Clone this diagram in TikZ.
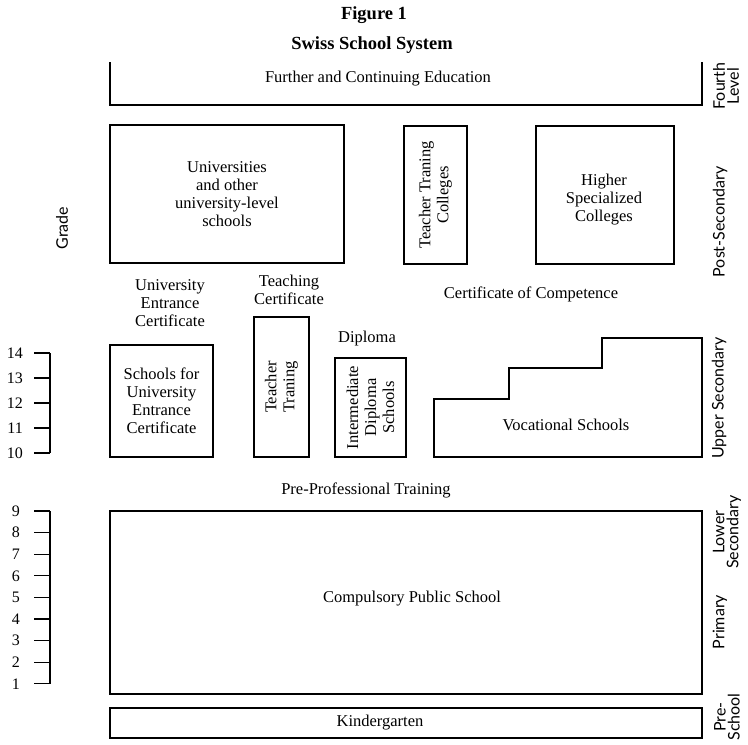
\documentclass[tikz,border=0pt]{standalone}
\usepackage{fontspec}
\setmainfont{Liberation Serif}
\newfontfamily\sidefont{Lato}
\begin{document}
\begin{tikzpicture}[x=1pt,y=-1pt]
\tikzset{
 box/.style={draw, line width=1.1pt, inner sep=0pt, align=center, font=\fontsize{16.5}{18}\selectfont},
 txt/.style={font=\fontsize{16.5}{18}\selectfont, align=center, inner sep=0pt},
 ttl/.style={font=\bfseries\fontsize{18.5}{20}\selectfont, inner sep=0pt},
 side/.style={font=\sidefont\fontsize{16}{14}\selectfont, rotate=90, align=center, inner sep=0pt},
 num/.style={font=\fontsize{16}{16}\selectfont, inner sep=0pt, anchor=east},
 ln/.style={line width=1.1pt}
}
\useasboundingbox (0,0) rectangle (748,745);
% titles
\node[ttl] (fig) at (374,15) {Figure 1};
\node[ttl] (sss) at (372,45) {Swiss School System};
% fourth level bracket
\coordinate (fl) at (110,62);
\coordinate (fr) at (702,62);
\draw[ln] (fl) |- (702,105) -- (fr);
\node[txt] (fce) at (378,79) {Further and Continuing Education};
% post secondary boxes
\node[box, minimum width=234pt, minimum height=138pt] (uni) at (227,194) {Universities\\and other\\university-level\\schools};
\node[box, minimum width=63pt, minimum height=138pt] (ttc) at (435.5,195) {};
\node[txt, rotate=90] (ttct) at (ttc) {Teacher Traning\\Colleges};
\node[box, minimum width=138pt, minimum height=138pt] (hsc) at (605,195) {};
\node[txt] (hsct) at (604,200) {Higher\\Specialized\\Colleges};
% certificates
\node[txt] (uec) at (170,303) {University\\Entrance\\Certificate};
\node[txt] (tc) at (289,290) {Teaching\\Certificate};
\node[txt] (coc) at (531,294) {Certificate of Competence};
\node[txt] (dip) at (367,339) {Diploma};
% upper secondary
\node[box, minimum width=103pt, minimum height=112pt] (suec) at (161.5,401) {Schools for\\University\\Entrance\\Certificate};
\node[box, minimum width=55pt, minimum height=140pt] (tt) at (281.5,387) {};
\node[txt, rotate=90] (ttt) at (tt) {Teacher\\Traning};
\node[box, minimum width=71pt, minimum height=99pt] (ids) at (370.5,407.5) {};
\node[txt, rotate=90] (idst) at (ids) {Intermediate\\Diploma\\Schools};
\draw[ln] (434,457) -- (434,399) -- (509,399) -- (509,368) -- (602,368) -- (602,338) -- (702,338) -- (702,457) -- cycle;
\node[txt] (voc) at (566,425) {Vocational Schools};
% lower
\node[txt] (ppt) at (366,490) {Pre-Professional Training};
\node[box, minimum width=592pt, minimum height=183pt] (comp) at (406,602.5) {};
\node[txt] (compt) at (412,599) {Compulsory Public School};
\node[box, minimum width=592pt, minimum height=30pt] (kg) at (406,723) {};
\node[txt] (kgt) at (380,723) {Kindergarten};
% grade scales
\node[side] (grade) at (62,228) {Grade};
\foreach \g [count=\i from 0] in {14,13,12,11,10} {
  \draw[ln] (34,353+25*\i) -- (50,353+25*\i);
  \node[num] (g\g) at (23,353+25*\i) {\g};
}
\draw[ln] (50,353) -- (50,453);
\foreach \g [count=\i from 0] in {9,8,7,6,5,4,3,2,1} {
  \draw[ln] (34,511+21.6*\i) -- (50,511+21.6*\i);
  \node[num] (h\g) at (20,511+21.6*\i) {\g};
}
\draw[ln] (50,511) -- (50,683.8);
% side labels
\node[side] (s4) at (726,86) {Fourth\\Level};
\node[side] (sps) at (720,222) {Post-Secondary};
\node[side] (sus) at (719,398) {Upper Secondary};
\node[side] (sls) at (727,532) {Lower\\Secondary};
\node[side] (spr) at (720,622) {Primary};
\node[side] (spre) at (727,717) {Pre-\\School};
\end{tikzpicture}
\end{document}
